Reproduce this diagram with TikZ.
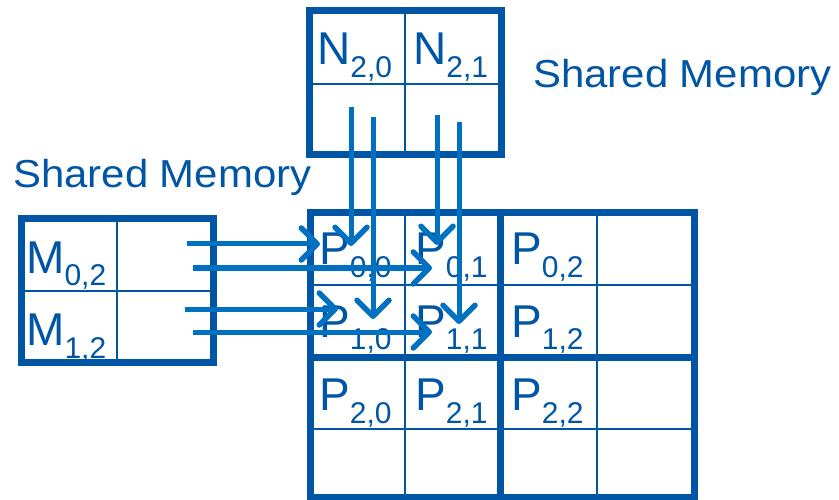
\documentclass[tikz,border=0pt]{standalone}
\usepackage{fontspec}
\setmainfont{Liberation Sans}
\usetikzlibrary{arrows.meta}
\definecolor{frame}{RGB}{0,85,165}
\definecolor{arr}{RGB}{0,112,192}
\newcommand{\cellab}[2]{#1\raisebox{-13pt}{\fontsize{30}{30}\selectfont #2}}
\begin{document}
\begin{tikzpicture}[x=1pt,y=-1pt,
  thickframe/.style={draw=frame,line width=7pt},
  thinframe/.style={draw=frame,line width=2pt},
  lab/.style={anchor=base west,inner sep=0pt,text=frame,font=\fontsize{46}{46}\selectfont},
  heading/.style={anchor=base west,inner sep=0pt,text=frame,font=\fontsize{39}{39}\selectfont},
  flow/.style={draw=arr,line width=5pt,-{Straight Barb[length=16pt,width=32pt,line width=5.5pt,round]}}]
\useasboundingbox (0,0) rectangle (839,500);
% N box
\draw[thinframe] (405,11) -- (405,155) (309,84) -- (501,84);
\draw[thickframe] (309,11) rectangle (501,155);
% M box
\draw[thinframe] (117,219) -- (117,362) (21,291) -- (213,291);
\draw[thickframe] (21,219) rectangle (213,362);
% P grid
\draw[thinframe] (405,213) -- (405,497) (597,213) -- (597,497)
                 (310,285) -- (694,285) (310,429) -- (694,429);
\draw[thickframe] (310,213) rectangle (694,497) (500,213) -- (500,497) (310,357) -- (694,357);
% headings
\node[heading] (sm1) at (533,88) {\scalebox{1.075}[1]{Shared Memory}};
\node[heading] (sm2) at (13,188) {\scalebox{1.075}[1]{Shared Memory}};
% labels
\node[lab] (n20) at (317,65) {\cellab{N}{2,0}};
\node[lab] (n21) at (413,65) {\cellab{N}{2,1}};
\node[lab] (m02) at (26,273) {\cellab{M}{0,2}};
\node[lab] (m12) at (26,345) {\cellab{M}{1,2}};
\node[lab] (p00) at (319,265) {\cellab{P}{0,0}};
\node[lab] (p01) at (415,265) {\cellab{P}{0,1}};
\node[lab] (p02) at (511,265) {\cellab{P}{0,2}};
\node[lab] (p10) at (319,337) {\cellab{P}{1,0}};
\node[lab] (p11) at (415,337) {\cellab{P}{1,1}};
\node[lab] (p12) at (511,337) {\cellab{P}{1,2}};
\node[lab] (p20) at (319,410) {\cellab{P}{2,0}};
\node[lab] (p21) at (415,410) {\cellab{P}{2,1}};
\node[lab] (p22) at (511,410) {\cellab{P}{2,2}};
% arrow end points
\coordinate (h1s) at (187,244); \coordinate (h1e) at (320,244);
\coordinate (h2s) at (193,268); \coordinate (h2e) at (432,268);
\coordinate (h3s) at (185,309); \coordinate (h3e) at (338,309);
\coordinate (h4s) at (193,332); \coordinate (h4e) at (432,332);
\coordinate (v1s) at (351,107); \coordinate (v1e) at (351,246);
\coordinate (v2s) at (373,117); \coordinate (v2e) at (373,319);
\coordinate (v3s) at (437,115); \coordinate (v3e) at (437,245);
\coordinate (v4s) at (459,122); \coordinate (v4e) at (459,324);
% arrows
\draw[flow] (h1s) -- (h1e);
\draw[flow] (h2s) -- (h2e);
\draw[flow] (h3s) -- (h3e);
\draw[flow] (h4s) -- (h4e);
\draw[flow] (v1s) -- (v1e);
\draw[flow] (v2s) -- (v2e);
\draw[flow] (v3s) -- (v3e);
\draw[flow] (v4s) -- (v4e);
\end{tikzpicture}
\end{document}
